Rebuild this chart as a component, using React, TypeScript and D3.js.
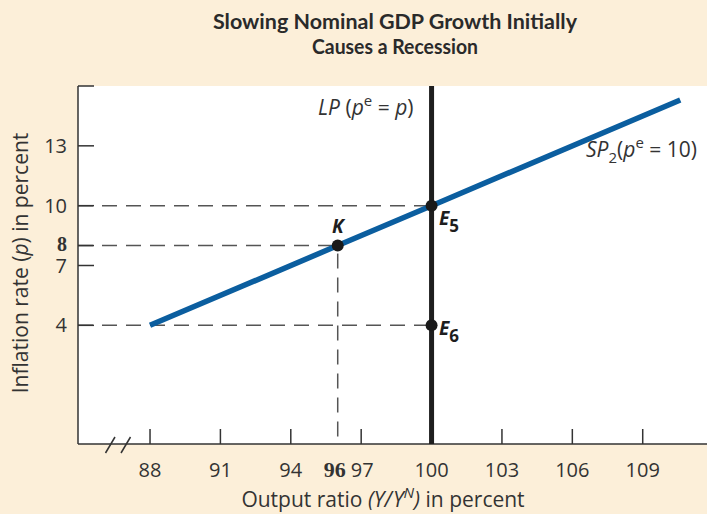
import { useEffect } from "react"
import * as d3 from "d3"

// tick values
const yTicks = [4, 7, 8, 10, 13, 16]
const yLabels = [4, 7, 8, 10, 13]
const xTicks = [88, 91, 94, 97, 103, 106, 109]
const xLabels = [88, 91, 94, 96, 97, 100, 103, 106, 109]
const boldTicks = [8, 96]

// SP2 curve points (output ratio, inflation)
const sp2Output = [88, 96, 100, 110.6]
const sp2Inflation = [4, 8, 10, 15.3]

// equilibrium points
const pointNames = ["K", "E5", "E6"]
const pointOutput = [96, 100, 100]
const pointInflation = [8, 10, 4]

const lpOutput = 100

const W = 707
const H = 514
const left = 78
const top = 86
const bottom = 444
const bg = "#fcefd9"
const ink = "#333"
const blue = "#0b5e9f"
const font = "'Open Sans', Lato, sans-serif"
const serif = "'Liberation Serif', serif"

const App = () => {
  useEffect(() => {
    document.body.style.margin = "0"
  }, [])

  const x = d3.scaleLinear().domain([84.93, 111.74]).range([left, W])
  const y = d3.scaleLinear().domain([-1.95, 16]).range([bottom, top])

  const line = d3.line<number>()
    .x(d => x(sp2Output[d]))
    .y(d => y(sp2Inflation[d]))

  const pts = pointNames.map((n, i) => ({ name: n, cx: x(pointOutput[i]), cy: y(pointInflation[i]) }))

  return (
    <svg width={W} height={H} style={{ display: "block", background: bg }} fontFamily={font}>
      <rect x={0} y={0} width={W} height={H} fill={bg} />
      <rect x={left} y={top} width={W - left} height={bottom - top} fill="#fff" />

      {/* title */}
      <text x={395} y={29} textAnchor="middle" fontSize={20} fontWeight="bold" fill="#2a2a2a" fontFamily="Lato, sans-serif" textLength={364} lengthAdjust="spacingAndGlyphs">Slowing Nominal GDP Growth Initially</text>
      <text x={395} y={54} textAnchor="middle" fontSize={20} fontWeight="bold" fill="#2a2a2a" fontFamily="Lato, sans-serif" textLength={166} lengthAdjust="spacingAndGlyphs">Causes a Recession</text>

      {/* dashed guides */}
      <g stroke="#555" strokeWidth={1.5} strokeDasharray="15 9">
        <line x1={left} x2={x(100)} y1={y(10)} y2={y(10)} />
        <line x1={left} x2={x(96)} y1={y(8)} y2={y(8)} />
        <line x1={left} x2={x(100)} y1={y(4)} y2={y(4)} />
        <line x1={x(96)} x2={x(96)} y1={y(8) + 8} y2={bottom} />
      </g>

      {/* axes */}
      <g stroke={ink} strokeWidth={1.5}>
        <line x1={left} x2={left} y1={top} y2={bottom} />
        <line x1={left} x2={W} y1={bottom} y2={bottom} />
        {yTicks.map(t => <line key={t} x1={left} x2={left + 16} y1={y(t)} y2={y(t)} />)}
        {xTicks.map(t => <line key={t} x1={x(t)} x2={x(t)} y1={bottom} y2={bottom - 15} />)}
        <line x1={105.5} y1={453} x2={115} y2={437} />
        <line x1={121} y1={453} x2={130.5} y2={437} />
      </g>

      {/* tick labels */}
      <g fill={ink} fontSize={20}>
        {yLabels.map(t => {
          const b = boldTicks.includes(t)
          return <text key={t} x={67} y={y(t) + (t === 8 ? 5 : t === 7 ? 8 : 7)} textAnchor="end"
            fontWeight={b ? "bold" : "normal"} fontFamily={b ? serif : font} fontSize={b ? 20 : 20}>{t}</text>
        })}
        {xLabels.map(t => {
          const b = boldTicks.includes(t)
          return <text key={t} x={x(t) + (t === 96 ? -3 : t === 97 ? 1 : 0)} y={477} textAnchor="middle"
            fontWeight={b ? "bold" : "normal"} fontFamily={b ? serif : font} fontSize={b ? 22 : 20}>{t}</text>
        })}
      </g>

      {/* axis titles */}
      <text x={383} y={507} textAnchor="middle" fontSize={21} fill={ink}>
        Output ratio <tspan fontStyle="italic">(Y/</tspan><tspan fontStyle="italic" dx={1}>Y</tspan><tspan fontStyle="italic" fontSize={15} dy={-9}>N</tspan><tspan fontStyle="italic" dy={9}>)</tspan> in percent
      </text>
      <text transform="translate(28,263) rotate(-90)" textAnchor="middle" fontSize={21} fill={ink}>
        Inflation rate (<tspan fontStyle="italic">p</tspan>) in percent
      </text>

      {/* LP vertical line */}
      <line x1={x(lpOutput)} x2={x(lpOutput)} y1={top} y2={bottom} stroke="#1e1e1e" strokeWidth={5} />

      {/* SP2 curve */}
      <path d={line(d3.range(sp2Output.length)) ?? ""} fill="none" stroke={blue} strokeWidth={5.5} />

      {/* points */}
      {pts.map(p => <circle key={p.name} cx={p.cx} cy={p.cy} r={6} fill="#1a1a1a" />)}

      {/* point labels */}
      <g fill="#1e1e1e" fontWeight="bold" fontStyle="italic" fontSize={19}>
        <text x={pts[0].cx} y={233} textAnchor="middle">K</text>
        <text x={439} y={225}>E<tspan fontSize={17} dy={7} fontStyle="normal">5</tspan></text>
        <text x={439} y={335}>E<tspan fontSize={17} dy={7} fontStyle="normal">6</tspan></text>
      </g>

      {/* curve labels */}
      <text x={318} y={115} fontSize={21} fill={ink}>
        <tspan fontStyle="italic">LP</tspan> (<tspan fontStyle="italic">p</tspan><tspan fontSize={15} dy={-9}>e</tspan><tspan dy={9}> = </tspan><tspan fontStyle="italic">p</tspan>)
      </text>
      <text x={586} y={157} fontSize={21} fill={ink}>
        <tspan fontStyle="italic">SP</tspan><tspan fontSize={15} dy={6}>2</tspan><tspan dy={-6}>(</tspan><tspan fontStyle="italic">p</tspan><tspan fontSize={15} dy={-9}>e</tspan><tspan dy={9}> = 10)</tspan>
      </text>
    </svg>
  )
}

export default App
